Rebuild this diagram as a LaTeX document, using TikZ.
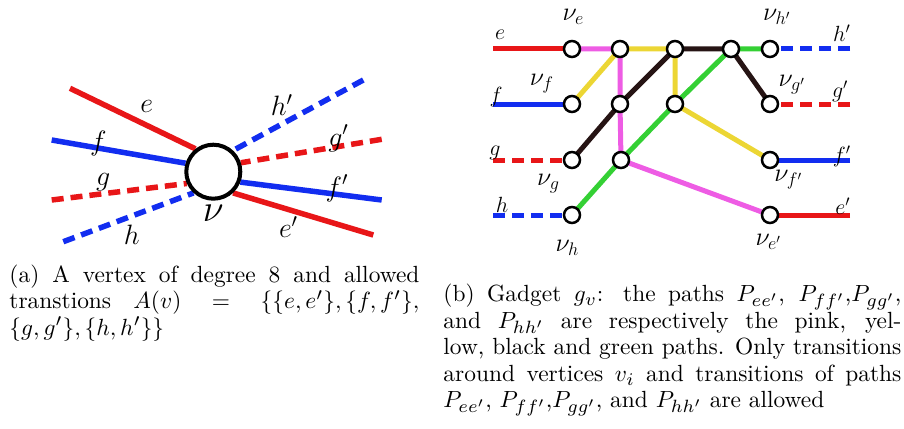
\RequirePackage{fix-cm}
\documentclass[tikz,border=0pt]{standalone}
\usetikzlibrary{backgrounds}
\DeclareMathSizes{10}{10}{7.6}{6}
\definecolor{cred}{RGB}{232,22,24}
\definecolor{cblue}{RGB}{18,45,240}
\definecolor{cpink}{RGB}{238,92,228}
\definecolor{cyellow}{RGB}{236,214,52}
\definecolor{cblack}{RGB}{38,20,20}
\definecolor{cgreen}{RGB}{52,208,52}
\tikzset{
  thickl/.style={line width=5.5pt},
  thinl/.style={line width=5pt},
  dsh/.style={dash pattern=on 12pt off 7pt},
  bigv/.style={circle, draw, fill=white, line width=4pt, minimum size=54pt, inner sep=0pt},
  gnode/.style={circle, draw, fill=white, line width=2.5pt, minimum size=16pt, inner sep=0pt},
  biglbl/.style={font=\fontsize{28}{28}\selectfont, inner sep=0pt},
  bignu/.style={font=\fontsize{38}{38}\selectfont, inner sep=0pt},
  smlbl/.style={font=\fontsize{22}{22}\selectfont, inner sep=0pt},
  nulbl/.style={font=\fontsize{26}{26}\selectfont, inner sep=0pt},
  capt/.style={anchor=north west, inner sep=0pt, align=justify, scale=2.34, transform shape, font=\fontsize{10}{11.3}\selectfont}
}
\begin{document}
\begin{tikzpicture}[x=1pt,y=-1pt]
\useasboundingbox (0,0) rectangle (904,428);
% ---------- (a) ----------
\node[bigv] (v) at (213.3,171.7) {};
\coordinate (e0) at (70,88.3);
\coordinate (f0) at (51.7,140);
\coordinate (g0) at (51.7,200);
\coordinate (h0) at (63.3,241.7);
\coordinate (h1) at (363.3,80);
\coordinate (g1) at (381.7,139.3);
\coordinate (f1) at (381.7,200);
\coordinate (e1) at (373.3,235);
\begin{scope}[on background layer]
\draw[cred, thickl] (e0) -- (v.128);
\draw[cblue, thickl] (f0) -- (v.163);
\draw[cred, thickl, dsh] (g0) -- (v.204);
\draw[cblue, thickl, dsh] (h0) -- (v.227);
\draw[cblue, thickl, dsh] (h1) -- (v.47);
\draw[cred, thickl, dsh] (g1) -- (v.18);
\draw[cblue, thickl] (f1) -- (v.-21);
\draw[cred, thickl] (e1) -- (v.-47);
\end{scope}
\node[biglbl] (le) at (146.7,106.7) {$e$};
\node[biglbl] (lf) at (98.3,143.3) {$f$};
\node[biglbl] (lg) at (103.3,181.7) {$g$};
\node[biglbl] (lh) at (131.7,235) {$h$};
\node[bignu] (lv) at (213.3,213.3) {$\nu$};
\node[biglbl] (lhp) at (281.7,105) {$h'$};
\node[biglbl] (lgp) at (338.3,138.3) {$g'$};
\node[biglbl] (lfp) at (336.7,188.3) {$f'$};
\node[biglbl] (lep) at (288.3,226.7) {$e'$};
% ---------- (b) ----------
\node[gnode] (ve) at (572,49) {};
\node[gnode] (A) at (620,49) {};
\node[gnode] (B) at (675,49) {};
\node[gnode] (E) at (731,49) {};
\node[gnode] (vhp) at (770,49) {};
\node[gnode] (vf) at (572,104) {};
\node[gnode] (C) at (620,104) {};
\node[gnode] (D) at (675,104) {};
\node[gnode] (vgp) at (770,104) {};
\node[gnode] (vg) at (572,160) {};
\node[gnode] (F) at (621,160) {};
\node[gnode] (vfp) at (770,160) {};
\node[gnode] (vh) at (572,215) {};
\node[gnode] (vep) at (770,215) {};
\coordinate (el) at (493,49);
\coordinate (fl) at (493,104);
\coordinate (gl) at (493,160);
\coordinate (hl) at (493,215);
\coordinate (hr) at (850,49);
\coordinate (gr) at (850,104);
\coordinate (fr) at (850,160);
\coordinate (er) at (850,215);
\begin{scope}[on background layer]
\draw[cred, thinl] (el) -- (ve.center);
\draw[cblue, thinl] (fl) -- (vf.center);
\draw[cred, thinl, dsh] (gl) -- (vg.center);
\draw[cblue, thinl, dsh] (hl) -- (vh.center);
\draw[cblue, thinl, dsh] (hr) -- (vhp.center);
\draw[cred, thinl, dsh] (gr) -- (vgp.center);
\draw[cblue, thinl] (fr) -- (vfp.center);
\draw[cred, thinl] (er) -- (vep.center);
\draw[cpink, thinl] (ve.center) -- (A.center) -- (C.center) -- (F.center) -- (vep.center);
\draw[cyellow, thinl] (vf.center) -- (A.center) -- (B.center) -- (D.center) -- (vfp.center);
\draw[cblack, thinl] (vg.center) -- (C.center) -- (B.center) -- (E.center) -- (vgp.center);
\draw[cgreen, thinl] (vh.center) -- (F.center) -- (D.center) -- (E.center) -- (vhp.center);
\end{scope}
\node[smlbl] (re) at (500,35) {$e$};
\node[smlbl] (rf) at (496,97) {$f$};
\node[smlbl] (rg) at (495,153) {$g$};
\node[smlbl] (rh) at (502,205) {$h$};
\node[smlbl] (rhp) at (841.7,33.3) {$h'$};
\node[smlbl] (rgp) at (840,91.7) {$g'$};
\node[smlbl] (rfp) at (841.7,156.7) {$f'$};
\node[smlbl] (rep) at (842.7,206) {$e'$};
\node[nulbl] (nve) at (573.3,17) {$\nu_{e}$};
\node[nulbl] (nvf) at (541.7,83.3) {$\nu_{f}$};
\node[nulbl] (nvg) at (548.3,183.3) {$\nu_{g}$};
\node[nulbl] (nvh) at (567.3,248.3) {$\nu_{h}$};
\node[nulbl] (nvhp) at (776.7,17) {$\nu_{h'}$};
\node[nulbl] (nvgp) at (791.7,85) {$\nu_{g'}$};
\node[nulbl] (nvfp) at (788.3,180) {$\nu_{f'}$};
\node[nulbl] (nvep) at (768.3,241.7) {$\nu_{e'}$};
% ---------- captions ----------
\node[capt, text width=175.2pt] (capa) at (9,263.5) {\strut(a) A vertex of degree 8 and allowed\linebreak transtions $A(v) = \{\{e,e'\},\{f,f'\},$\linebreak $\{g,g'\},\{h,h'\}\}$};
\node[capt, text width=195.7pt] (capb) at (443,283) {\strut(b) Gadget $g_v$: the paths $P_{ee'}$, $P_{ff'}$,$P_{gg'}$,\linebreak and $P_{hh'}$ are respectively the pink, yel-\linebreak low, black and green paths. Only transitions\linebreak around vertices $v_i$ and transitions of paths\linebreak $P_{ee'}$, $P_{ff'}$,$P_{gg'}$, and $P_{hh'}$ are allowed};
\end{tikzpicture}
\end{document}
